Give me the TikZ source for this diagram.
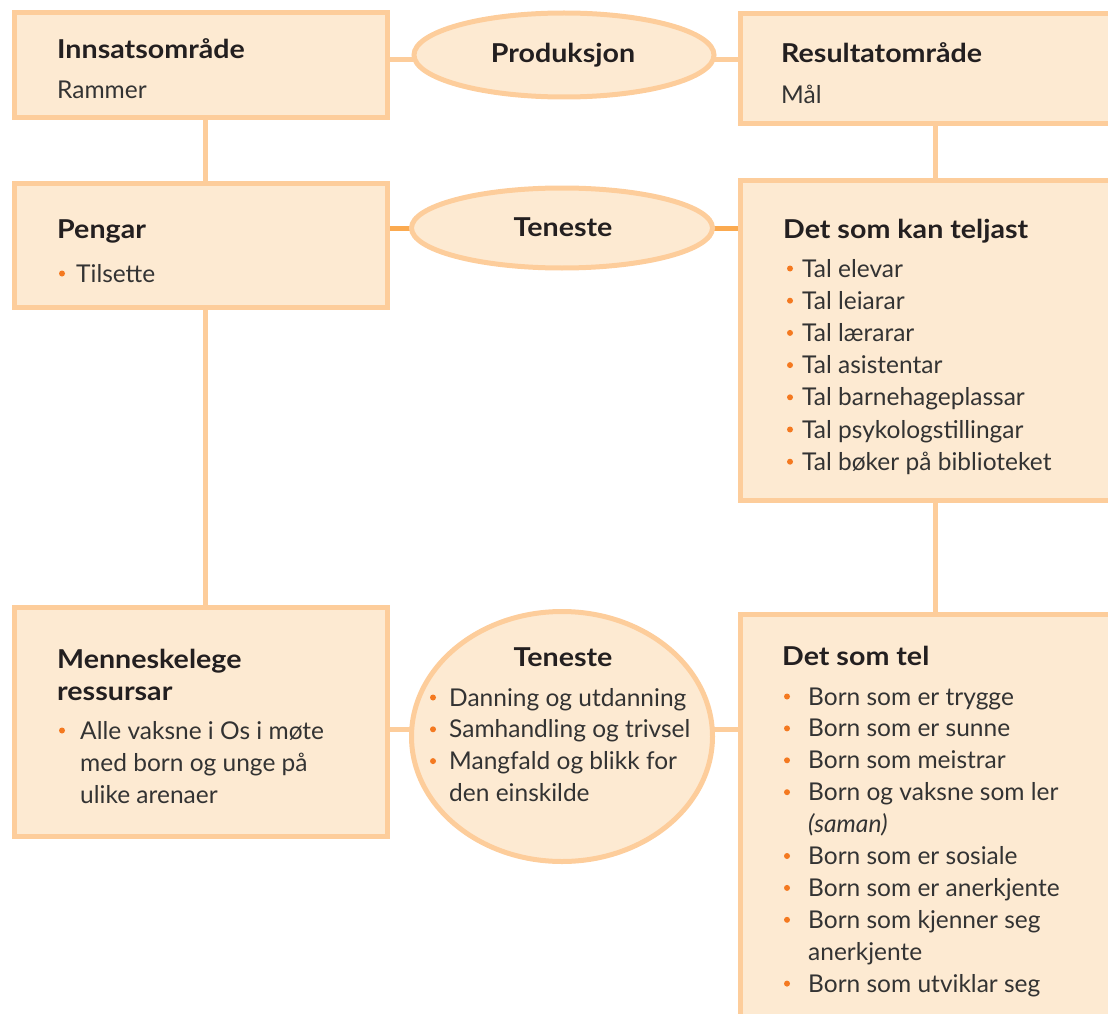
\documentclass[tikz,border=0pt]{standalone}
\usepackage{fontspec}
\setmainfont{Lato}
\newfontfamily\headfont[FakeStretch=1.1]{Lato}
\usetikzlibrary{shapes.geometric,backgrounds}
\definecolor{bord}{HTML}{FDCD9B}
\definecolor{boxfill}{HTML}{FDEAD2}
\definecolor{darkconn}{HTML}{FBAA50}
\definecolor{bulletc}{HTML}{F47920}
\definecolor{headc}{HTML}{231F20}
\definecolor{txtc}{HTML}{333333}
\begin{document}
\begin{tikzpicture}[x=1pt,y=-1pt,
  box/.style={draw=bord, fill=boxfill, line width=5pt, rectangle, inner sep=0pt, outer sep=0pt, anchor=north west},
  oval/.style={draw=bord, fill=boxfill, line width=5pt, ellipse, inner sep=0pt, outer sep=0pt},
  conn/.style={draw=bord, line width=5pt},
  connd/.style={draw=darkconn, line width=5pt},
  head/.style={font=\headfont\bfseries\fontsize{26}{30}\selectfont, text=headc, anchor=base west, inner sep=0pt},
  headc/.style={font=\headfont\bfseries\fontsize{26}{30}\selectfont, text=headc, anchor=base, inner sep=0pt},
  txt/.style={font=\fontsize{24.5}{30}\selectfont, text=txtc, anchor=base west, inner sep=0pt},
  itxt/.style={font=\itshape\fontsize{24.5}{30}\selectfont, text=txtc, anchor=base west, inner sep=0pt},
  dot/.style={circle, fill=bulletc, inner sep=0pt, minimum size=6pt}]
\clip (0,0) rectangle (1108,1014);
% boxes
\node[box, minimum width=373pt, minimum height=105pt] (A) at (14.5,12.5) {};
\node[box, minimum width=373pt, minimum height=124pt] (P) at (14.5,183.5) {};
\node[box, minimum width=373pt, minimum height=229pt] (M) at (14.5,607.5) {};
\node[box, minimum width=400pt, minimum height=110pt] (R) at (740.5,13.5) {};
\node[box, minimum width=400pt, minimum height=320pt] (K) at (740.5,180.5) {};
\node[box, minimum width=400pt, minimum height=420pt] (T) at (740.5,614.5) {};
% ellipses
\node[oval, minimum width=300pt, minimum height=84pt] (prod) at (564,55) {};
\node[oval, minimum width=301pt, minimum height=80pt] (ten1) at (562,228) {};
\node[oval, minimum width=301pt, minimum height=250pt] (ten2) at (562,736.5) {};
% connector helpers
\coordinate (h1) at (0,60);
\coordinate (h2) at (0,228);
\coordinate (h3) at (0,729);
\coordinate (vl) at (205,0);
\coordinate (vr) at (935,0);
\begin{scope}[on background layer]
\draw[conn] (A.east |- h1) -- (prod.center |- h1);
\draw[conn] (prod.center |- h1) -- (R.west |- h1);
\draw[connd] (P.east |- h2) -- (ten1.center |- h2);
\draw[connd] (ten1.center |- h2) -- (K.west |- h2);
\draw[conn] (M.east |- h3) -- (ten2.center |- h3);
\draw[conn] (ten2.center |- h3) -- (T.west |- h3);
\draw[conn] (A.south -| vl) -- (P.north -| vl);
\draw[conn] (P.south -| vl) -- (M.north -| vl);
\draw[conn] (R.south -| vr) -- (K.north -| vr);
\draw[conn] (K.south -| vr) -- (T.north -| vr);
\end{scope}
% texts
\node[head] (tA) at (57,59) {Innsatsområde};
\node[txt] (tA2) at (57,99) {Rammer};
\node[headc] (tprod) at (563,63) {Produksjon};
\node[head] (tR) at (781,63) {Resultatområde};
\node[txt] (tR2) at (781,104) {Mål};
\node[head] (tP) at (57,238) {Pengar};
\node[dot] (dP) at (62,273.5) {};
\node[txt] (tP2) at (76,282) {Tilsette};
\node[headc] (tten1) at (563,236) {Teneste};
\node[head] (tK) at (783,238) {Det som kan teljast};
\foreach \t [count=\i] in {Tal elevar, Tal leiarar, Tal lærarar, Tal asistentar, Tal barnehageplassar, Tal psykologstillingar, Tal bøker på biblioteket}{
  \node[txt] (tK\i) at (802,{277+32.2*(\i-1)}) {\t};
  \node[dot] (dK\i) at (790,{277+32.2*(\i-1)-8.5}) {};
}
\node[head] (tM) at (57,668) {Menneskelege};
\node[head] (tM2) at (57,700) {ressursar};
\node[dot] (dM) at (62,730.5) {};
\foreach \t [count=\i] in {Alle vaksne i Os i møte, med born og unge på, ulike arenaer}{
  \node[txt] (tM\i b) at (80,{739+32*(\i-1)}) {\t};
}
\node[headc] (tten2) at (563,666) {Teneste};
\foreach \t [count=\i] in {Danning og utdanning, Samhandling og trivsel, Mangfald og blikk for, den einskilde}{
  \node[txt] (tT\i) at (449,{706+31.8*(\i-1)}) {\t};
}
\foreach \i in {1,2,3}{
  \node[dot] (dT\i) at (433,{706+31.8*(\i-1)-8.5}) {};
}
\node[head] (tTel) at (782,665) {Det som tel};
\foreach \t [count=\i] in {Born som er trygge, Born som er sunne, Born som meistrar, Born og vaksne som ler}{
  \node[txt] (tL\i) at (808,{705+31.9*(\i-1)}) {\t};
  \node[dot] (dL\i) at (787,{705+31.9*(\i-1)-8.5}) {};
}
\node[itxt] (tL5) at (808,{705+31.9*4}) {(saman)};
\foreach \t [count=\i] in {Born som er sosiale, Born som er anerkjente, Born som kjenner seg}{
  \node[txt] (tLb\i) at (808,{705+31.9*(\i+4)}) {\t};
  \node[dot] (dLb\i) at (787,{705+31.9*(\i+4)-8.5}) {};
}
\node[txt] (tL9) at (808,{705+31.9*8}) {anerkjente};
\node[txt] (tL10) at (808,{705+31.9*9}) {Born som utviklar seg};
\node[dot] (dL10) at (787,{705+31.9*9-8.5}) {};
\end{tikzpicture}
\end{document}
